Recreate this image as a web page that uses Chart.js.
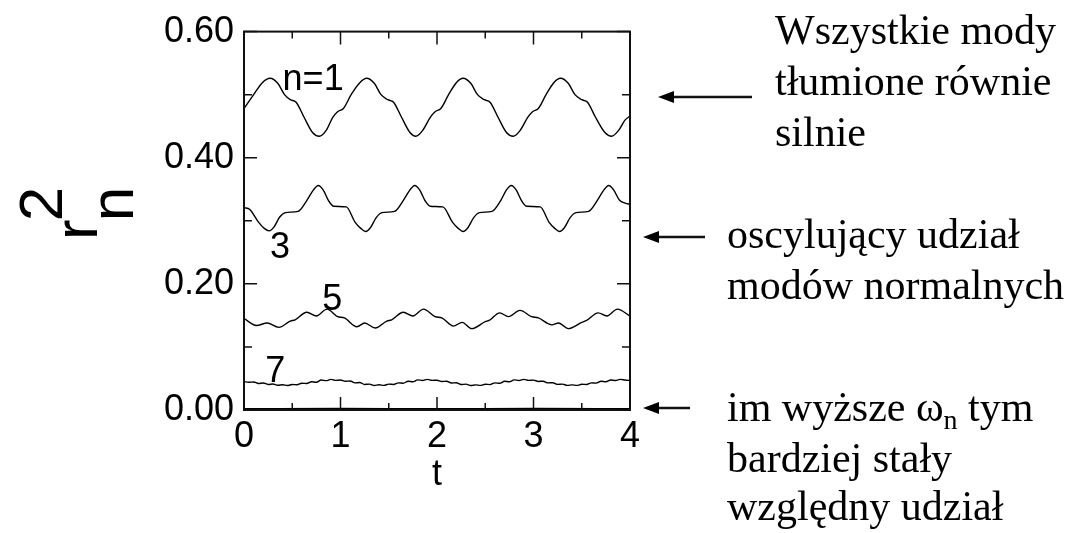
<!DOCTYPE html>
<html>
<head>
<meta charset="utf-8">
<script src="https://cdn.jsdelivr.net/npm/chart.js@4.4.0/dist/chart.umd.min.js"></script>
<style>
body { margin: 0; background: #fff; }
#wrap { width: 1084px; height: 533px; }
</style>
</head>
<body>
<div id="wrap"><canvas id="modesChart" width="1084" height="533"></canvas></div>
<script>
window.onload = onPageLoad;

// r_n^2, mode by mode
const tMode1 = [0.00,0.10,0.19,0.27,0.35,0.42,0.48,0.54,0.62,0.71,0.78,0.85,0.92,0.97,
                1.03,1.11,1.20,1.27,1.35,1.42,1.49,1.55,1.63,1.72,1.78,1.85,1.93,1.98,
                2.04,2.12,2.20,2.27,2.35,2.42,2.49,2.55,2.63,2.72,2.79,2.86,2.94,2.99,
                3.05,3.13,3.21,3.28,3.36,3.43,3.50,3.56,3.64,3.74,3.81,3.88,3.95,4.00];
const rMode1 = [0.478,0.500,0.519,0.526,0.518,0.500,0.492,0.488,0.465,0.440,0.434,0.443,0.464,0.473,
                0.478,0.500,0.519,0.526,0.518,0.500,0.492,0.488,0.465,0.440,0.434,0.443,0.464,0.473,
                0.478,0.500,0.519,0.526,0.518,0.500,0.492,0.488,0.465,0.440,0.434,0.443,0.464,0.473,
                0.478,0.500,0.519,0.526,0.518,0.500,0.492,0.488,0.465,0.440,0.434,0.443,0.460,0.466];

const tMode3 = [0.00,0.06,0.15,0.21,0.26,0.31,0.37,0.43,0.56,0.65,0.72,0.77,0.82,0.88,0.93,
                1.06,1.15,1.21,1.26,1.31,1.37,1.43,1.56,1.65,1.72,1.77,1.82,1.88,1.93,
                2.06,2.16,2.22,2.27,2.32,2.38,2.44,2.57,2.66,2.72,2.77,2.82,2.88,2.93,
                3.07,3.16,3.22,3.27,3.32,3.38,3.44,3.57,3.66,3.73,3.78,3.83,3.89,3.95,4.00];
const rMode3 = [0.321,0.318,0.298,0.288,0.284,0.290,0.306,0.313,0.315,0.332,0.349,0.356,0.349,0.331,0.323,
                0.322,0.298,0.288,0.283,0.289,0.305,0.313,0.315,0.332,0.349,0.356,0.349,0.331,0.323,
                0.322,0.298,0.288,0.283,0.289,0.305,0.313,0.315,0.332,0.349,0.356,0.349,0.331,0.323,
                0.322,0.298,0.288,0.283,0.289,0.305,0.313,0.315,0.332,0.349,0.356,0.349,0.333,0.328,0.326];

const tMode5 = [0.00,0.13,0.24,0.36,0.48,0.53,0.65,0.75,0.86,0.97, 1.04,1.17,1.25,1.36,1.48,1.53,1.65,1.75,1.86,1.98, 2.05,2.17,2.26,2.36,2.50,2.54,2.65,2.74,2.86,2.98, 3.05,3.19,3.26,3.36,3.50,3.55,3.67,3.76,3.87,4.00];
const rMode5 = [0.145,0.134,0.138,0.131,0.141,0.143,0.155,0.149,0.160,0.148, 0.146,0.132,0.138,0.130,0.141,0.143,0.155,0.149,0.160,0.148, 0.146,0.133,0.139,0.129,0.140,0.142,0.154,0.148,0.158,0.148, 0.146,0.135,0.138,0.129,0.139,0.142,0.154,0.149,0.160,0.149];

const tMode7 = [0.00,0.05,0.10,0.15,0.20,0.25,0.30,0.35,0.40,0.45,0.50,0.55,0.60,0.65,0.70,0.75,0.80,0.85,0.90,0.95,
                1.00,1.05,1.10,1.15,1.20,1.25,1.30,1.35,1.40,1.45,1.50,1.55,1.60,1.65,1.70,1.75,1.80,1.85,1.90,1.95,
                2.00,2.05,2.10,2.15,2.20,2.25,2.30,2.35,2.40,2.45,2.50,2.55,2.60,2.65,2.70,2.75,2.80,2.85,2.90,2.95,
                3.00,3.05,3.10,3.15,3.20,3.25,3.30,3.35,3.40,3.45,3.50,3.55,3.60,3.65,3.70,3.75,3.80,3.85,3.90,3.95,4.00];
const rMode7 = [0.0450,0.0440,0.0445,0.0420,0.0428,0.0405,0.0412,0.0392,0.0400,0.0388,0.0405,0.0400,0.0425,0.0420,0.0448,0.0440,0.0475,0.0465,0.0485,0.0470,
                0.0475,0.0455,0.0460,0.0430,0.0435,0.0405,0.0410,0.0388,0.0400,0.0390,0.0410,0.0405,0.0430,0.0425,0.0455,0.0447,0.0478,0.0468,0.0485,0.0470,
                0.0472,0.0452,0.0456,0.0428,0.0432,0.0404,0.0410,0.0388,0.0398,0.0390,0.0408,0.0403,0.0430,0.0424,0.0455,0.0447,0.0478,0.0468,0.0486,0.0470,
                0.0474,0.0453,0.0457,0.0430,0.0433,0.0406,0.0410,0.0390,0.0398,0.0390,0.0408,0.0405,0.0430,0.0426,0.0455,0.0448,0.0476,0.0468,0.0486,0.0475,0.0468];

const tMode9 = [0, 1, 2, 3, 4];
const rMode9 = [0.002, 0.0025, 0.002, 0.0025, 0.002];

const xMajorTicks = [0, 1, 2, 3, 4];
const xMinorTicks = [0.5, 1.5, 2.5, 3.5];
const yMajorTicks = [0, 0.2, 0.4, 0.6];
const yMinorTicks = [0.1, 0.3, 0.5];

// curve names and where they sit (data coords: t, r^2 of the text baseline)
const curveLabels = ["n=1", "3", "5", "7"];
const curveLabelAt = [[0.40, 0.508], [0.27, 0.241], [0.81, 0.158], [0.22, 0.045]];

const notes = [
    ["Wszystkie mody", "tłumione równie", "silnie"],
    ["oscylujący udział", "modów normalnych"],
    ["bardziej stały", "względny udział"]
];

function toPoints(ts, rs) {
    return ts.map((t, i) => ({ x: t, y: rs[i] }));
}

function lineSet(ts, rs) {
    return {
        data: toPoints(ts, rs),
        borderColor: "#000",
        borderWidth: 1.4,
        pointRadius: 0,
        fill: false,
        cubicInterpolationMode: "monotone"
    };
}

function drawArrow(ctx, x1, x2, y) {
    ctx.beginPath();
    ctx.moveTo(x1, y);
    ctx.lineTo(x2 + 10, y);
    ctx.lineWidth = 2.5;
    ctx.stroke();
    ctx.beginPath();
    ctx.moveTo(x2, y);
    ctx.lineTo(x2 + 16, y - 6);
    ctx.lineTo(x2 + 16, y + 6);
    ctx.closePath();
    ctx.fill();
}

const decorations = {
    id: "decorations",
    afterDraw(chart) {
        const ctx = chart.ctx;
        const xs = chart.scales.x, ys = chart.scales.y;
        const a = chart.chartArea;
        ctx.save();
        ctx.strokeStyle = "#111";
        ctx.fillStyle = "#000";

        // frame
        ctx.lineWidth = 2;
        ctx.strokeRect(a.left, a.top, a.right - a.left, a.bottom - a.top);

        // inward ticks on all four sides
        ctx.lineWidth = 1.5;
        ctx.beginPath();
        xMajorTicks.concat(xMinorTicks).forEach(v => {
            const len = xMajorTicks.includes(v) ? 13 : 7;
            const px = xs.getPixelForValue(v);
            ctx.moveTo(px, a.bottom); ctx.lineTo(px, a.bottom - len);
            ctx.moveTo(px, a.top); ctx.lineTo(px, a.top + len);
        });
        yMajorTicks.concat(yMinorTicks).forEach(v => {
            const len = yMajorTicks.includes(v) ? 13 : 8;
            const py = ys.getPixelForValue(v);
            ctx.moveTo(a.left, py); ctx.lineTo(a.left + len, py);
            ctx.moveTo(a.right, py); ctx.lineTo(a.right - len, py);
        });
        ctx.stroke();

        // curve labels
        ctx.font = "36px 'Liberation Sans', Arial, sans-serif";
        ctx.textAlign = "left";
        ctx.textBaseline = "alphabetic";
        curveLabels.forEach((txt, i) => {
            ctx.fillText(txt, xs.getPixelForValue(curveLabelAt[i][0]), ys.getPixelForValue(curveLabelAt[i][1]));
        });

        // x title
        ctx.textAlign = "center";
        ctx.fillText("t", xs.getPixelForValue(2), 485);

        // y title: r with subscript n and superscript 2
        ctx.save();
        ctx.translate(97, 240);
        ctx.rotate(-Math.PI / 2);
        ctx.textAlign = "left";
        ctx.font = "62px 'Liberation Sans', Arial, sans-serif";
        ctx.fillText("r", 0, 0);
        const rw = ctx.measureText("r").width - 2;
        ctx.fillText("2", rw, -35);
        ctx.fillText("n", rw, 36);
        ctx.restore();

        // arrows
        drawArrow(ctx, 752, 658, 97);
        drawArrow(ctx, 705, 643, 237);
        drawArrow(ctx, 690, 643, 408);

        // notes on the right
        ctx.textAlign = "left";
        ctx.font = "42px 'Liberation Serif', 'Times New Roman', serif";
        ctx.fillText(notes[0][0], 775, 44);
        ctx.fillText(notes[0][1], 775, 95);
        ctx.fillText(notes[0][2], 775, 146);
        ctx.fillText(notes[1][0], 727, 248);
        ctx.fillText(notes[1][1], 727, 299);

        let x = 727;
        const part1 = "im wyższe ω";
        ctx.fillText(part1, x, 421);
        x += ctx.measureText(part1).width;
        ctx.font = "28px 'Liberation Serif', 'Times New Roman', serif";
        ctx.fillText("n", x, 429);
        x += ctx.measureText("n").width;
        ctx.font = "42px 'Liberation Serif', 'Times New Roman', serif";
        ctx.fillText(" tym", x, 421);
        ctx.fillText(notes[2][0], 727, 472);
        ctx.fillText(notes[2][1], 727, 520);
        ctx.restore();
    }
};

function onPageLoad() {
    const context = document.getElementById("modesChart").getContext("2d");
    new Chart(context, {
        type: "line",
        data: {
            datasets: [
                lineSet(tMode1, rMode1),
                lineSet(tMode3, rMode3),
                lineSet(tMode5, rMode5),
                lineSet(tMode7, rMode7),
                lineSet(tMode9, rMode9)
            ]
        },
        options: {
            responsive: false,
            animation: false,
            layout: { padding: { left: 0, top: 24, right: 454, bottom: 0 } },
            plugins: { legend: { display: false }, tooltip: { enabled: false } },
            scales: {
                x: {
                    type: "linear",
                    min: 0, max: 4,
                    afterFit: s => { s.height = 123; },
                    grid: { display: false, drawTicks: false },
                    border: { display: false },
                    ticks: {
                        stepSize: 1, padding: 5, color: "#000",
                        font: { family: "'Liberation Sans', Arial, sans-serif", size: 36 },
                        callback: v => String(v)
                    }
                },
                y: {
                    min: 0, max: 0.6,
                    afterFit: s => { s.width = 244; },
                    grid: { display: false, drawTicks: false },
                    border: { display: false },
                    ticks: {
                        stepSize: 0.2, padding: 10, color: "#000",
                        font: { family: "'Liberation Sans', Arial, sans-serif", size: 36 },
                        callback: v => v.toFixed(2)
                    }
                }
            }
        },
        plugins: [decorations]
    });
}
</script>
</body>
</html>
